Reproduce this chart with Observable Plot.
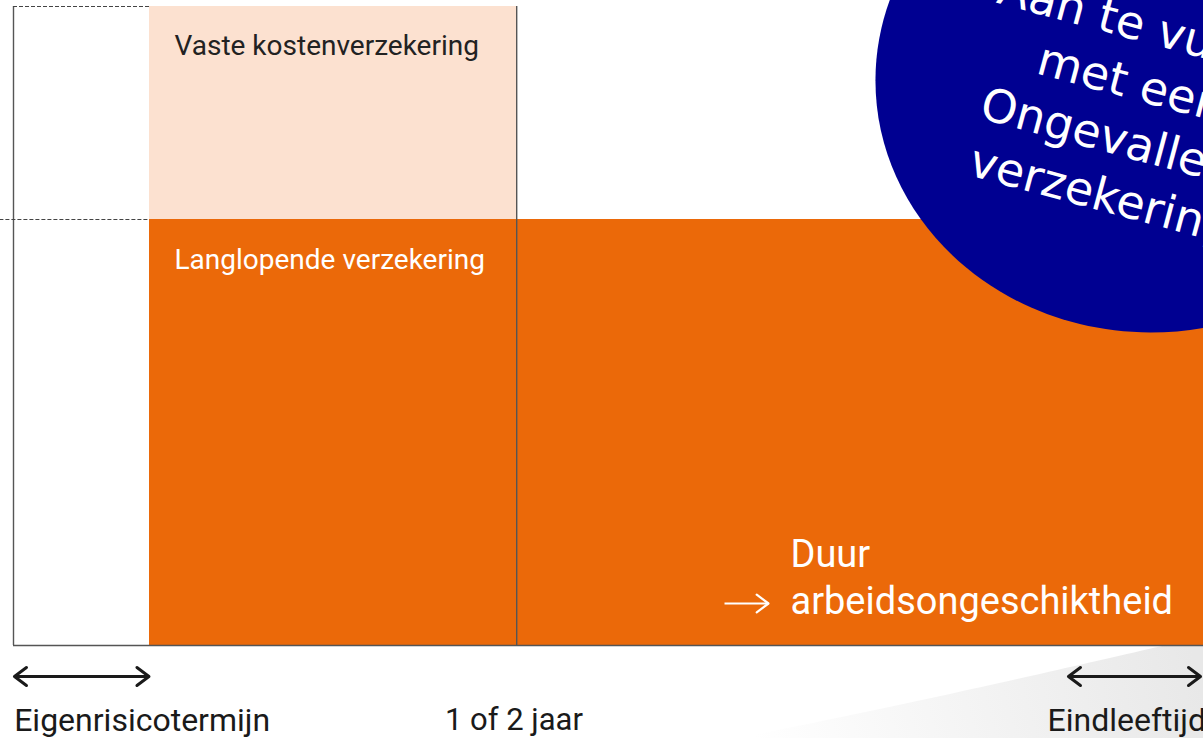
<!DOCTYPE html>
<html><head><meta charset="utf-8">
<script src="https://cdn.jsdelivr.net/npm/d3@7"></script>
<script src="https://cdn.jsdelivr.net/npm/@observablehq/plot@0.6"></script>
<style>html,body{margin:0;padding:0;background:#fff;overflow:hidden}#chart svg{display:block}</style>
</head><body><div id="chart"></div>
<script>
// ---- Data (abstract time units on x, coverage level on y) ----
const phaseNames = ["Start", "Eigenrisicotermijn", "1 of 2 jaar", "Eindleeftijd"];
const phaseX = [0, 1, 3.7, 8.75];
const levelNames = ["Langlopende verzekering", "Vaste kostenverzekering"];
const levelY = [1, 1.5];

const blockLabels = ["Vaste kostenverzekering", "Langlopende verzekering"];
const blockX1 = [1, 1];
const blockX2 = [3.7, 8.75];
const blockY1 = [1, 0];
const blockY2 = [1.5, 1];

const blockLabelX = [1.184, 1.184];
const blockLabelY = [1.408, 0.906];

const durationLabel = "Duur\narbeidsongeschiktheid";
const durationX = [5.713];
const durationY = [0.165];
const durationArrowX = [5.228, 5.551];
const durationArrowY = [0.0986];

const tickLabels = ["Eigenrisicotermijn", "1 of 2 jaar", "Eindleeftijd"];
const tickLabelX = [0.005, 3.68, 7.603];
const tickLabelY = [-0.176];

const spanArrowX1 = [0.007, 7.757];
const spanArrowX2 = [0.996, 8.728];
const spanArrowY = [-0.0728];

const bubbleText = "Aan te vullen\nmet een\nOngevallen-\nverzekering";
const bubbleX = [8.36];
const bubbleY = [1.3263];
const bubbleTextX = [8.17];
const bubbleTextY = [1.262];

const swooshX = [5.346, 6.89, 8.75];
const swooshY = [-0.218, -0.115, 0.02];
const swooshBase = [-0.3];

// ---- Build tables ----
const blocks = blockLabels.map((label, i) => ({label, x1: blockX1[i], x2: blockX2[i], y1: blockY1[i], y2: blockY2[i]}));
const blockText = blockLabels.map((label, i) => ({label, x: blockLabelX[i], y: blockLabelY[i]}));
const ticks = tickLabels.map((label, i) => ({label, x: tickLabelX[i], y: tickLabelY[0]}));
const spans = spanArrowX1.map((x1, i) => ({x1, x2: spanArrowX2[i], y: spanArrowY[0]}));
const swoosh = swooshX.map((x, i) => ({x, y: swooshY[i], y0: swooshBase[0]}));

const ratio = 275 / 252;
const ellipseSymbol = {
  draw(context, size) {
    const ry = Math.sqrt(size / Math.PI), rx = ry * ratio, k = 0.5522847498;
    context.moveTo(rx, 0);
    context.bezierCurveTo(rx, ry * k, rx * k, ry, 0, ry);
    context.bezierCurveTo(-rx * k, ry, -rx, ry * k, -rx, 0);
    context.bezierCurveTo(-rx, -ry * k, -rx * k, -ry, 0, -ry);
    context.bezierCurveTo(rx * k, -ry, rx, -ry * k, rx, 0);
    context.closePath();
  }
};

const labelFont = "Roboto, 'DejaVu Sans', sans-serif";

const chart = Plot.plot({
  width: 1203,
  height: 738,
  marginLeft: 13,
  marginRight: 0,
  marginTop: 6,
  marginBottom: 93,
  x: {domain: [phaseX[0], phaseX[3]], axis: null},
  y: {domain: [0, levelY[1]], axis: null},
  color: {domain: blockLabels, range: ["#fce1d0", "#eb6909"]},
  marks: [
    Plot.areaY(swoosh, {x: "x", y1: "y0", y2: "y", curve: "catmull-rom", fill: "url(#swoosh)"}),
    Plot.rect(blocks, {x1: "x1", x2: "x2", y1: "y1", y2: "y2", fill: "label"}),
    Plot.ruleX([phaseX[0], phaseX[2]], {y1: 0, y2: levelY[1], stroke: "#555", strokeWidth: 1.4}),
    Plot.ruleY([0], {x1: phaseX[0], x2: phaseX[3], stroke: "#555", strokeWidth: 1.4}),
    Plot.ruleY([levelY[1]], {x1: phaseX[0], x2: phaseX[1], stroke: "#444", strokeWidth: 1, strokeDasharray: "4,2"}),
    Plot.ruleY([levelY[0]], {x1: -0.1, x2: phaseX[1], stroke: "#444", strokeWidth: 1, strokeDasharray: "4,2"}),
    Plot.dot([{x: bubbleX[0], y: bubbleY[0]}], {x: "x", y: "y", r: 252, symbol: ellipseSymbol, fill: "#000091", stroke: "none"}),
    Plot.text([{x: bubbleTextX[0], y: bubbleTextY[0], t: bubbleText}], {x: "x", y: "y", text: "t", rotate: 15, fontSize: 46, fontFamily: "'DejaVu Sans', sans-serif", fill: "white", lineHeight: 1.26, textAnchor: "middle", lineAnchor: "middle"}),
    Plot.text(blockText, {x: "x", y: "y", text: "label", fontSize: 28, fontFamily: labelFont, textAnchor: "start", lineAnchor: "middle", fill: (d) => d.label === blockLabels[0] ? "#222" : "#fff"}),
    Plot.text([{x: durationX[0], y: durationY[0], t: durationLabel}], {x: "x", y: "y", text: "t", fontSize: 38, fontFamily: labelFont, textAnchor: "start", lineAnchor: "middle", lineHeight: 1.24, fill: "#fff"}),
    Plot.link([{x1: durationArrowX[0], x2: durationArrowX[1], y: durationArrowY[0]}], {x1: "x1", x2: "x2", y1: "y", y2: "y", stroke: "#fff", strokeWidth: 2.2, markerEnd: "arrow"}),
    Plot.link(spans, {x1: "x1", x2: "x2", y1: "y", y2: "y", stroke: "#1a1a1a", strokeWidth: 3, markerStart: "arrow", markerEnd: "arrow"}),
    Plot.text(ticks.filter((d) => d.label !== tickLabels[1]), {x: "x", y: "y", text: "label", fontSize: 32, fontFamily: labelFont, fill: "#1a1a1a", lineAnchor: "middle", textAnchor: "start"}),
    Plot.text(ticks.filter((d) => d.label === tickLabels[1]), {x: "x", y: "y", text: "label", fontSize: 31, fontFamily: labelFont, fill: "#1a1a1a", lineAnchor: "middle", textAnchor: "middle"})
  ]
});

// gradient for the decorative swoosh
const svg = d3.select(chart);
const defs = svg.insert("defs", ":first-child");
const grad = defs.append("linearGradient").attr("id", "swoosh").attr("gradientUnits", "userSpaceOnUse")
  .attr("x1", 1190).attr("y1", 645).attr("x2", 760).attr("y2", 760);
grad.append("stop").attr("offset", 0).attr("stop-color", "#e8e8e8");
grad.append("stop").attr("offset", 1).attr("stop-color", "#ffffff");

// larger open chevrons for the arrow markers, pointing outward at both ends
svg.selectAll("marker").each(function() {
  const m = d3.select(this);
  const dark = (m.attr("stroke") || "").toLowerCase().includes("1a1a1a");
  m.attr("overflow", "visible").attr("orient", "auto-start-reverse");
  m.selectAll("path").attr("d", dark ? "M-6,-4.5L0,0L-6,4.5" : "M-8,-6L0,0L-8,6");
});

document.getElementById("chart").appendChild(chart);
</script>
</body></html>
